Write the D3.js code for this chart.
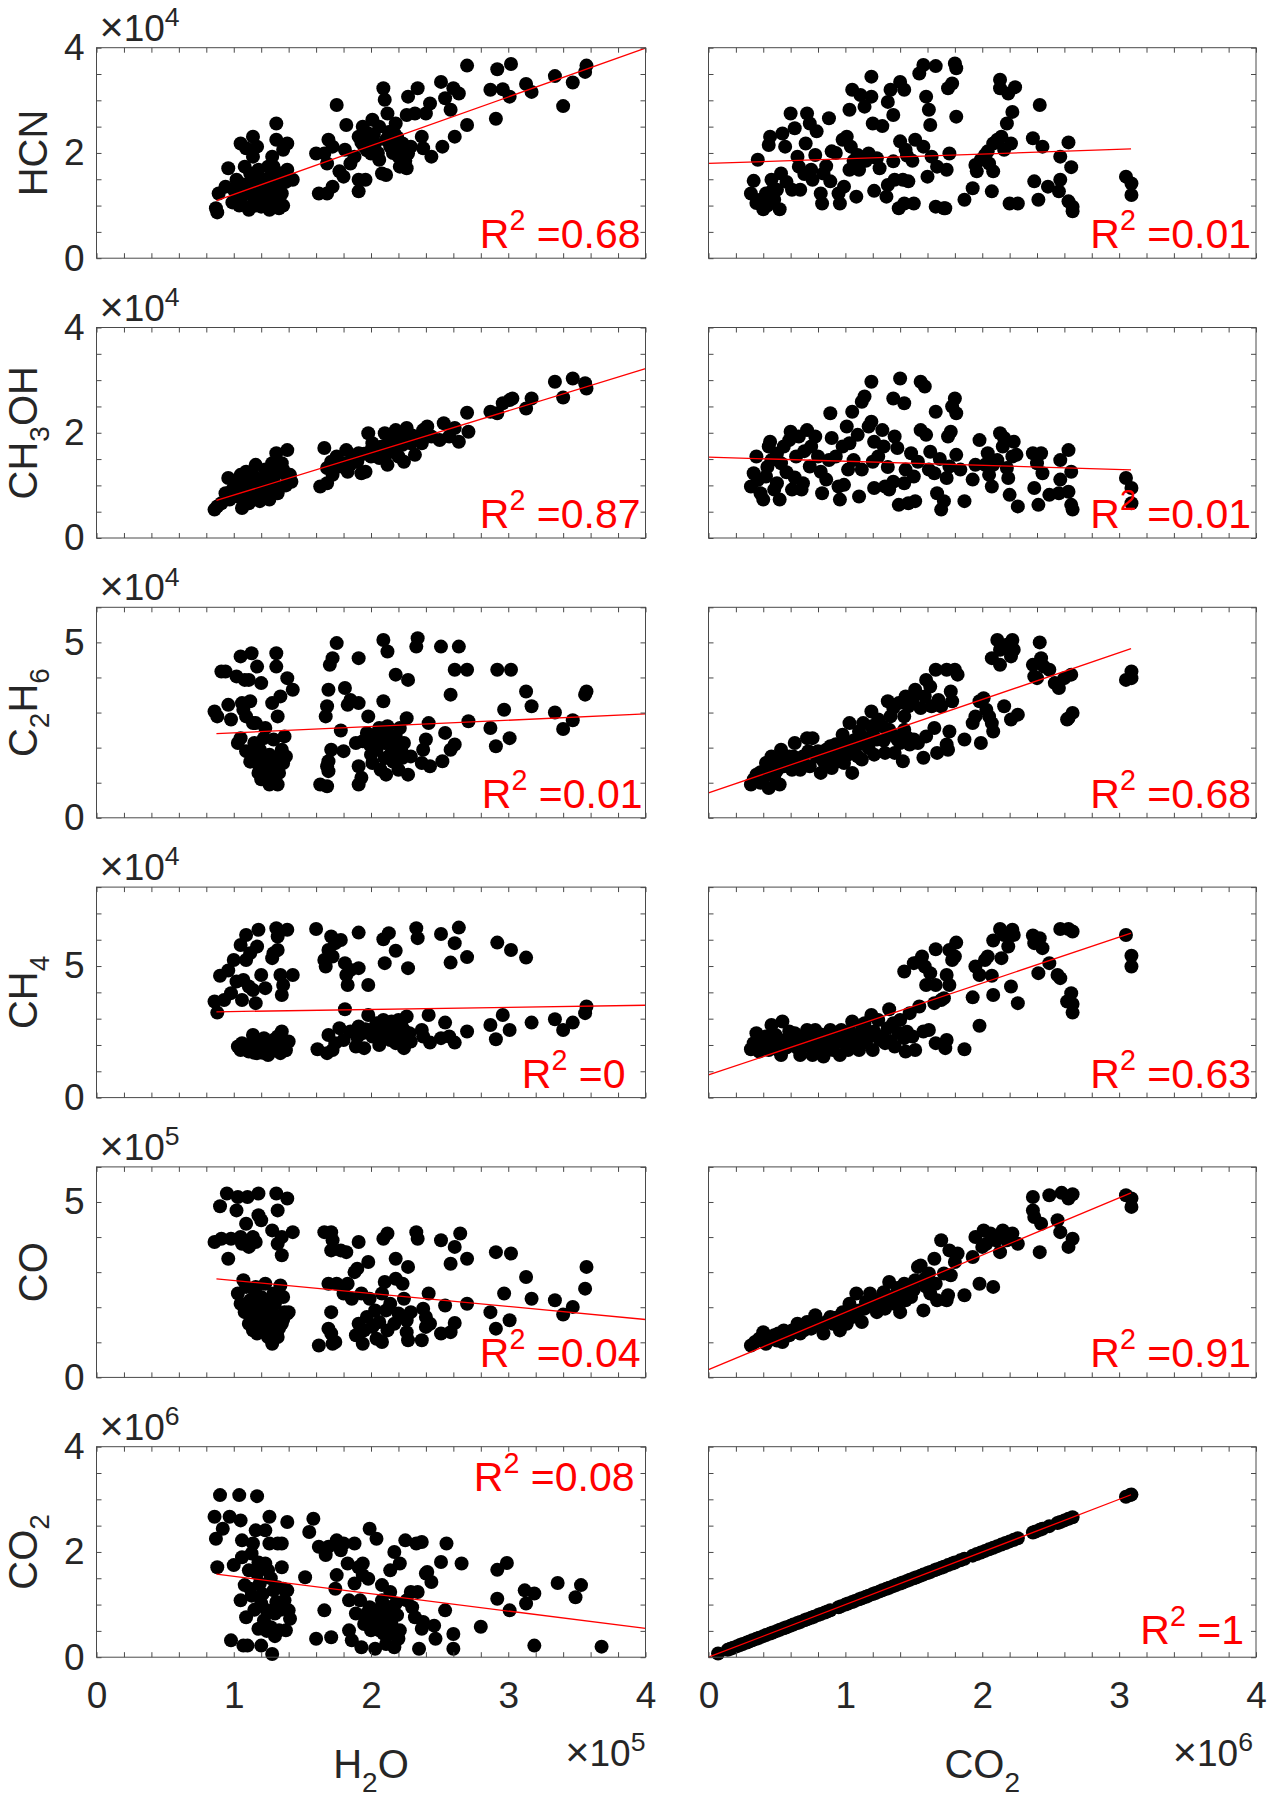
<!DOCTYPE html>
<html>
<head>
<meta charset="utf-8">
<script src="https://cdn.jsdelivr.net/npm/d3@7"></script>
<style>
  body { margin: 0; background: #fff; }
  text { font-family: "Liberation Sans", Arial, Helvetica, sans-serif; }
</style>
</head>
<body>
<svg id="chart" width="1267" height="1800"></svg>
<script>
// ---- data (x in units of 1e5 for H2O, 1e6 for CO2; y in units of 1e{yExp}) ----
const yNames = ["HCN", "CH_3OH", "C_2H_6", "CH_4", "CO", "CO_2"];
const xNames = ["H_2O", "CO_2"];
const xExp = [5, 6];
const yExp = [4, 4, 4, 4, 5, 6];
const yMax = [4, 4, 6, 8, 6, 4];
const yStep = [0.5, 0.5, 1, 1, 1, 0.5];
const yLabeled = [[0, 2, 4], [0, 2, 4], [0, 5], [0, 5], [0, 5], [0, 2, 4]];

const r2Left = ["0.68", "0.87", "0.01", "0", "0.04", "0.08"];
const r2Right = ["0.01", "0.01", "0.68", "0.63", "0.91", "1"];

// fitted lines: [x0, y0, x1, y1]
const fitLeft = [[0.874, 1.095, 4, 3.99], [0.874, 0.714, 4, 3.22], [0.874, 2.40, 4, 2.96],
                 [0.874, 3.26, 4, 3.51], [0.874, 2.81, 4, 1.65], [0.874, 1.58, 4, 0.546]];
const fitRight = [[0, 1.80, 3.087, 2.076], [0, 1.536, 3.087, 1.295], [0, 0.71, 3.087, 4.82],
                  [0, 0.86, 3.087, 6.25], [0, 0.22, 3.087, 5.26], [0, 0, 3.087, 3.087]];

const hcnH2O = [[0.87,0.95],[0.88,0.87],[0.89,1.23],[0.94,1.36],[0.96,1.71],[0.99,1.06],[1.02,1.49],[1.05,2.18],[1.06,1.17],[1.08,1.74],[1.09,2.09],[1.11,0.92],[1.12,1.61],[1.14,2.31],[1.14,1.27],[1.15,1.11],[1.17,2.12],[1.18,1.68],[1.19,1.36],[1.20,0.98],[1.22,1.17],[1.23,1.49],[1.25,1.74],[1.26,0.92],[1.28,1.93],[1.29,1.36],[1.31,2.25],[1.31,2.56],[1.32,1.11],[1.34,1.61],[1.35,1.23],[1.36,2.06],[1.39,2.18],[1.39,1.68],[1.43,1.49],[1.28,1.11],[1.02,1.11],[1.14,1.93],[1.29,1.74],[1.23,1.11],
  [1.00,1.30],[1.04,1.00],[1.07,1.40],[1.10,1.30],[1.13,1.45],[1.16,1.00],[1.18,1.50],[1.21,1.30],[1.24,1.25],[1.27,1.55],[1.30,1.20],[1.33,1.40],[1.36,1.00],[1.38,1.45],[1.12,0.98],[1.26,1.05],[1.33,0.95],
  [1.60,1.99],[1.62,1.23],[1.68,1.23],[1.66,1.99],[1.68,1.80],[1.69,2.25],[1.72,2.12],[1.72,1.36],[1.75,2.91],[1.77,1.65],[1.80,1.55],[1.81,2.06],[1.82,2.53],[1.85,1.80],[1.88,1.93],[1.91,2.31],[1.91,1.49],[1.91,1.27],[1.94,2.50],[1.95,2.12],[1.96,1.49],[1.98,2.37],[2.00,1.99],[2.01,2.63],[2.03,2.18],[2.06,2.50],[2.06,1.87],[2.08,1.61],[2.09,3.23],[2.10,3.01],[2.11,2.25],[2.11,1.58],[2.12,2.75],[2.14,2.12],[2.17,2.37],[2.18,2.56],[2.20,1.93],[2.21,1.74],[2.23,2.18],[2.26,2.72],[2.26,1.71],[2.27,3.07],[2.27,1.99],[2.29,2.12],[2.32,2.75],[2.34,3.23],[2.37,2.31],[2.38,2.09],[2.40,2.75],[2.43,2.94],[2.44,1.93],
  [1.93,2.20],[1.97,2.05],[2.02,2.35],[2.05,2.00],[2.13,2.40],[2.16,2.00],[2.19,2.30],[2.22,2.05],[2.25,1.85],[2.00,2.25],
  [2.51,3.35],[2.52,2.12],[2.54,3.04],[2.58,2.82],[2.60,3.23],[2.61,2.31],[2.64,3.13],[2.70,3.66],[2.70,2.53],[2.87,3.20],[2.91,2.65],[2.92,3.59],[2.96,3.21],[3.01,3.07],[3.02,3.69],[3.13,3.31],[3.17,3.16],[3.34,3.46],[3.40,2.89],[3.47,3.34],[3.56,3.54],[3.57,3.66]];

const hcnCO2 = [[0.31,1.23],[0.33,1.47],[0.36,1.87],[0.38,1.11],[0.40,0.93],[0.42,1.23],[0.44,2.15],[0.45,2.31],[0.46,1.49],[0.48,1.11],[0.50,1.30],[0.52,0.93],[0.53,1.61],[0.54,2.37],[0.56,2.12],[0.60,2.75],[0.61,1.30],[0.63,2.47],[0.65,1.93],[0.66,1.74],[0.67,1.30],[0.71,2.18],[0.72,2.75],[0.74,2.56],[0.75,1.68],[0.76,1.49],[0.78,1.96],[0.79,2.41],[0.82,1.23],[0.83,1.04],[0.84,1.61],[0.89,1.46],[0.88,2.66],[0.90,2.03],[0.95,1.23],[0.96,1.04],[0.98,2.25],[0.99,1.36],[1.01,2.31],[1.03,1.68],[1.03,2.82],[1.04,2.12],[1.05,3.20],[1.08,1.17],[1.09,1.96],[1.10,1.68],[1.11,3.10],[1.14,2.88],[1.17,1.99],[1.19,3.45],[1.19,3.07],[1.20,2.56],[1.21,1.28],[1.23,1.90],[1.25,1.71],[1.27,2.51],[1.30,1.17],[1.31,1.39],[1.31,2.97],[1.33,3.20],[1.35,2.72],[1.35,1.84],[1.36,1.49],[1.39,0.95],[1.40,2.22],[1.40,3.35],[1.42,1.49],[1.43,3.20],[1.43,1.04],[1.44,2.06],[1.46,1.46],[1.50,1.04],[1.51,2.25],[1.54,3.51],[1.57,3.67],[1.57,2.12],[1.59,3.07],[1.60,1.55],[1.61,2.82],[1.62,2.53],[1.63,1.93],[1.66,3.65],[1.66,0.98],[1.67,1.74],[1.72,0.95],[1.73,0.95],[1.74,1.68],[1.75,3.23],[1.76,1.99],[1.78,3.32],[1.80,3.70],[1.81,3.61],[1.81,2.69],[1.87,1.11],[1.93,1.33],[1.95,1.77],[1.96,1.65],[1.99,1.87],[2.02,1.96],[2.04,2.03],[2.07,1.27],[2.08,1.65],[2.08,2.18],[2.13,3.23],[2.13,3.39],[2.14,2.31],[2.16,2.06],[2.18,2.56],[2.19,3.13],[2.20,1.04],[2.21,2.18],[2.22,2.78],[2.24,3.25],[2.26,1.04],[2.37,2.28],[2.38,1.46],[2.41,1.11],[2.42,2.91],[2.44,2.12],[2.48,1.36],[2.56,1.27],[2.57,1.49],[2.57,1.93],[2.63,2.20],[2.63,1.08],[2.65,1.73],[2.66,0.98],[2.66,0.89],[3.05,1.55],[3.09,1.42],[3.09,1.20],
  [0.35,1.05],[0.43,1.00],[0.47,1.30],[0.57,1.45],[0.70,1.60],[0.86,1.75],[0.93,2.00],[1.06,1.85],[1.15,1.85],[1.45,1.95],[1.49,1.85],[2.05,1.80],[2.11,2.25]];

const ch3ohH2O = [[0.86,0.54],[0.88,0.60],[0.91,0.66],[0.94,0.85],[0.96,1.14],[0.97,0.73],[0.99,0.92],[1.02,1.04],[1.03,0.79],[1.05,1.20],[1.06,0.57],[1.08,0.92],[1.09,1.26],[1.11,0.66],[1.12,1.04],[1.14,0.73],[1.15,1.17],[1.16,1.39],[1.18,0.92],[1.20,1.11],[1.21,0.79],[1.23,1.30],[1.25,0.98],[1.26,0.73],[1.28,1.42],[1.29,1.11],[1.31,1.61],[1.32,0.85],[1.34,1.26],[1.35,1.42],[1.39,1.67],[1.39,1.17],[1.42,1.07],[1.14,0.92],[1.06,0.79],[1.26,1.04],
  [1.00,0.80],[1.04,0.95],[1.07,0.70],[1.10,1.00],[1.13,0.85],[1.17,1.05],[1.19,0.70],[1.22,1.00],[1.24,1.15],[1.27,0.85],[1.30,1.20],[1.33,0.95],[1.36,1.30],[1.38,1.00],[1.41,1.20],
  [1.63,0.98],[1.68,1.04],[1.66,1.71],[1.68,1.33],[1.71,1.45],[1.72,1.20],[1.75,1.55],[1.77,1.36],[1.80,1.42],[1.82,1.67],[1.83,1.26],[1.86,1.49],[1.89,1.55],[1.91,1.61],[1.93,1.23],[1.96,1.26],[1.98,1.99],[2.00,1.67],[2.01,1.80],[2.03,1.61],[2.06,1.52],[2.08,1.74],[2.10,1.99],[2.11,1.58],[2.12,1.39],[2.14,1.86],[2.17,1.67],[2.18,2.05],[2.20,1.55],[2.21,1.93],[2.23,1.77],[2.24,1.45],[2.26,2.09],[2.29,1.80],[2.32,1.58],[2.34,1.93],[2.37,1.80],[2.38,2.05],[2.41,2.12],[2.44,1.93],[2.50,1.86],[2.53,2.18],[2.57,1.93],[2.61,2.09],[2.64,1.83],[2.70,2.38],[2.71,2.02],
  [1.85,1.40],[1.90,1.45],[1.95,1.60],[2.00,1.55],[2.05,1.70],[2.10,1.75],[2.15,1.80],[2.20,1.75],[2.25,1.90],[2.30,1.95],[2.35,1.85],[2.40,1.95],
  [2.87,2.40],[2.92,2.37],[2.96,2.56],[3.01,2.62],[3.03,2.65],[3.13,2.46],[3.17,2.65],[3.34,2.97],[3.40,2.67],[3.47,3.03],[3.56,2.94],[3.57,2.84]];

const ch3ohCO2 = [[0.31,0.98],[0.33,1.23],[0.35,1.55],[0.38,0.85],[0.40,0.73],[0.42,1.17],[0.44,1.74],[0.45,1.83],[0.46,1.48],[0.48,0.92],[0.50,1.04],[0.52,0.73],[0.53,1.42],[0.55,1.74],[0.59,1.86],[0.60,2.02],[0.61,0.92],[0.64,1.55],[0.66,1.93],[0.68,0.92],[0.69,1.04],[0.72,2.05],[0.74,1.36],[0.75,1.74],[0.78,1.93],[0.82,1.26],[0.83,0.85],[0.86,1.11],[0.88,1.48],[0.89,2.37],[0.90,1.90],[0.95,0.98],[0.96,0.73],[0.98,1.74],[0.99,1.01],[1.01,2.12],[1.02,1.30],[1.03,1.80],[1.05,2.40],[1.06,1.48],[1.09,1.96],[1.10,0.79],[1.12,2.59],[1.14,2.69],[1.17,2.12],[1.19,2.21],[1.19,2.97],[1.20,1.45],[1.21,0.95],[1.21,1.83],[1.27,2.05],[1.28,1.74],[1.29,0.98],[1.32,0.92],[1.35,1.07],[1.35,2.65],[1.36,1.93],[1.38,1.71],[1.39,0.63],[1.40,3.03],[1.43,2.56],[1.43,1.04],[1.44,1.30],[1.46,0.66],[1.48,1.61],[1.50,1.17],[1.51,0.70],[1.55,2.05],[1.55,2.97],[1.58,2.88],[1.59,1.96],[1.61,1.30],[1.62,1.64],[1.65,1.23],[1.66,2.40],[1.67,0.85],[1.70,0.54],[1.72,0.70],[1.74,1.14],[1.75,1.93],[1.76,1.36],[1.77,2.02],[1.78,2.50],[1.80,2.65],[1.81,2.37],[1.81,1.58],[1.87,0.70],[1.93,1.11],[1.95,1.39],[1.98,1.86],[2.02,1.39],[2.04,1.61],[2.07,0.98],[2.08,1.39],[2.11,1.48],[2.13,1.99],[2.15,1.74],[2.16,1.90],[2.18,1.33],[2.19,1.14],[2.20,0.82],[2.22,1.55],[2.23,1.83],[2.25,1.58],[2.26,0.60],[2.37,1.61],[2.38,0.95],[2.40,1.42],[2.41,0.63],[2.43,1.61],[2.44,1.23],[2.49,0.82],[2.56,0.85],[2.57,1.11],[2.57,1.48],[2.63,0.88],[2.63,1.67],[2.65,1.26],[2.65,0.63],[2.66,0.54],[3.05,1.14],[3.09,0.95],[3.09,0.66],
  [0.36,1.10],[0.43,1.35],[0.50,1.60],[0.57,1.25],[0.63,1.15],[0.70,1.65],[0.80,1.55],[0.93,1.55],[1.12,1.30],[1.24,1.55],[1.31,1.35],[1.53,1.45],[1.69,1.50],[1.84,1.30],[2.05,1.20]];

const c2h6H2O = [[0.86,3.03],[0.88,2.89],[0.91,4.17],[0.94,4.17],[0.96,3.22],[0.98,2.80],[1.02,4.03],[1.03,2.13],[1.05,4.60],[1.05,2.27],[1.06,3.27],[1.07,3.08],[1.08,3.93],[1.09,1.90],[1.09,2.89],[1.11,3.93],[1.12,3.32],[1.13,1.75],[1.13,4.69],[1.14,2.70],[1.15,2.13],[1.16,2.70],[1.17,1.56],[1.17,4.31],[1.18,1.28],[1.19,1.94],[1.20,3.84],[1.21,1.56],[1.22,2.27],[1.23,2.56],[1.25,1.37],[1.26,0.95],[1.26,1.80],[1.28,3.27],[1.29,1.28],[1.29,2.23],[1.31,4.69],[1.31,4.31],[1.32,0.95],[1.32,2.89],[1.33,1.28],[1.34,3.46],[1.35,1.94],[1.36,1.56],[1.37,2.32],[1.38,1.75],[1.39,3.98],[1.43,3.65],
  [1.12,1.60],[1.15,1.90],[1.18,1.70],[1.21,1.40],[1.24,1.70],[1.27,1.50],[1.30,1.60],[1.33,1.75],[1.20,1.10],[1.28,1.05],
  [1.63,0.95],[1.68,0.90],[1.68,1.47],[1.69,1.61],[1.69,1.33],[1.67,2.89],[1.68,3.18],[1.69,3.65],[1.71,1.94],[1.70,4.36],[1.72,4.55],[1.75,4.98],[1.78,2.49],[1.80,1.90],[1.81,3.70],[1.83,3.22],[1.85,3.36],[1.89,2.13],[1.91,1.47],[1.91,3.27],[1.91,4.55],[1.91,0.95],[1.93,1.14],[1.94,2.18],[1.97,2.42],[1.98,2.89],[1.99,2.09],[2.01,1.56],[2.03,2.37],[2.04,1.94],[2.06,2.56],[2.07,1.37],[2.09,3.32],[2.09,5.07],[2.10,2.13],[2.11,1.23],[2.12,2.61],[2.12,4.74],[2.14,1.80],[2.15,2.04],[2.18,4.08],[2.18,2.32],[2.20,1.37],[2.21,2.56],[2.23,1.71],[2.24,2.13],[2.26,2.84],[2.27,3.93],[2.27,1.23],[2.29,1.75],[2.33,4.88],[2.34,5.12],[2.37,1.56],[2.38,1.94],[2.40,2.23],[2.42,2.70],[2.43,1.47],
  [2.00,1.80],[2.05,2.20],[2.10,1.70],[2.13,2.35],[2.16,1.60],[2.22,1.95],[2.02,2.15],
  [2.51,4.88],[2.52,1.61],[2.54,2.42],[2.58,3.51],[2.58,1.94],[2.61,4.22],[2.61,2.09],[2.64,4.88],[2.70,4.22],[2.71,2.75],[2.87,2.56],[2.91,2.04],[2.92,4.22],[2.97,3.08],[3.01,2.27],[3.02,4.22],[3.13,3.60],[3.17,3.18],[3.34,3.00],[3.40,2.53],[3.47,2.78],[3.56,3.51],[3.57,3.60]];

const c2h6CO2 = [[0.31,0.95],[0.33,1.09],[0.35,1.23],[0.38,1.00],[0.40,1.14],[0.42,1.56],[0.44,0.85],[0.45,1.28],[0.46,1.75],[0.48,1.18],[0.50,1.61],[0.52,0.95],[0.53,1.94],[0.55,1.47],[0.59,1.75],[0.61,1.37],[0.63,2.13],[0.65,1.66],[0.67,1.37],[0.69,1.75],[0.72,2.27],[0.74,1.47],[0.76,2.27],[0.79,1.75],[0.82,1.28],[0.84,1.61],[0.86,1.94],[0.89,2.04],[0.90,1.42],[0.91,1.75],[0.94,1.61],[0.96,1.90],[0.98,2.37],[0.99,1.56],[1.01,2.13],[1.02,1.80],[1.03,2.70],[1.05,1.28],[1.08,2.04],[1.09,1.75],[1.10,2.46],[1.12,1.66],[1.13,2.70],[1.16,2.23],[1.17,1.99],[1.19,2.61],[1.19,3.03],[1.21,1.80],[1.23,2.23],[1.24,2.80],[1.27,2.61],[1.29,1.85],[1.31,3.32],[1.32,2.51],[1.33,2.89],[1.35,3.13],[1.36,1.85],[1.38,2.23],[1.39,3.27],[1.40,2.13],[1.42,1.61],[1.43,2.89],[1.43,2.51],[1.44,3.46],[1.46,3.18],[1.47,2.09],[1.49,3.36],[1.50,2.23],[1.51,3.65],[1.53,2.13],[1.55,3.13],[1.57,1.71],[1.58,3.46],[1.59,3.93],[1.59,2.32],[1.62,3.74],[1.63,3.18],[1.65,2.56],[1.66,4.22],[1.67,1.85],[1.68,3.36],[1.70,3.18],[1.74,2.09],[1.74,4.22],[1.75,1.94],[1.76,2.46],[1.77,3.60],[1.78,3.32],[1.80,4.22],[1.82,4.08],[1.87,2.23],[1.93,2.70],[1.95,2.89],[1.98,3.32],[1.99,2.13],[2.01,3.41],[2.03,3.08],[2.05,2.89],[2.07,2.70],[2.08,2.46],[2.07,4.55],[2.11,5.07],[2.13,4.36],[2.13,4.79],[2.14,4.88],[2.16,3.18],[2.18,4.93],[2.21,4.60],[2.21,2.80],[2.22,5.07],[2.23,4.79],[2.26,2.94],[2.37,4.36],[2.38,4.03],[2.40,3.98],[2.42,5.00],[2.43,4.55],[2.45,4.31],[2.49,4.22],[2.53,3.84],[2.56,3.70],[2.60,3.98],[2.62,2.80],[2.65,4.08],[2.66,2.99],[2.63,2.84],[3.05,3.93],[3.09,4.17],[3.09,3.98],
  [0.38,1.30],[0.44,1.50],[0.50,1.35],[0.56,1.60],[0.62,1.75],[0.68,1.60],[0.73,1.90],[0.80,1.90],[0.87,1.75],[0.93,2.10],[1.00,1.95],[1.06,2.20],[1.12,2.30],[1.20,2.40],[1.28,2.20],[1.35,2.35],[1.45,2.30]];

const ch4H2O = [[0.86,3.65],[0.88,3.23],[0.90,4.63],[0.93,3.71],[0.96,4.83],[0.98,3.97],[1.00,5.23],[1.02,4.41],[1.05,5.80],[1.06,3.71],[1.07,4.47],[1.09,6.18],[1.09,5.23],[1.11,4.22],[1.12,5.49],[1.14,4.09],[1.16,3.59],[1.17,5.74],[1.18,6.38],[1.20,4.66],[1.23,4.16],[1.28,5.30],[1.29,5.49],[1.31,6.44],[1.32,6.12],[1.32,5.61],[1.34,4.66],[1.35,3.90],[1.36,4.28],[1.39,6.38],[1.43,4.66],
  [1.03,1.94],[1.05,1.81],[1.06,2.07],[1.09,1.88],[1.11,1.75],[1.14,2.38],[1.16,1.88],[1.17,1.69],[1.19,2.13],[1.20,1.81],[1.22,2.26],[1.23,1.94],[1.25,1.62],[1.26,2.07],[1.28,1.81],[1.29,2.19],[1.31,1.88],[1.32,2.32],[1.34,1.69],[1.35,2.51],[1.37,2.07],[1.40,2.13],
  [1.07,1.85],[1.12,2.00],[1.15,1.70],[1.18,1.95],[1.21,1.70],[1.24,2.10],[1.27,1.75],[1.30,2.00],[1.33,1.85],[1.36,1.95],[1.38,1.80],
  [1.60,6.41],[1.66,5.23],[1.67,4.98],[1.69,5.61],[1.71,6.12],[1.72,5.36],[1.74,5.87],[1.78,5.99],[1.81,5.11],[1.82,4.66],[1.83,4.28],[1.85,4.85],[1.91,4.92],[1.91,6.27],[1.98,4.28],[2.10,5.11],[2.09,6.02],[2.13,6.25],[2.18,5.58],[2.27,4.92],[2.33,6.44],[2.34,6.06],[2.51,6.22],[2.58,5.13],[2.61,5.87],[2.64,6.46],[2.70,5.34],[2.92,5.89],[3.02,5.61],[3.13,5.32],
  [1.61,1.84],[1.68,1.69],[1.69,2.38],[1.72,1.81],[1.74,2.07],[1.77,2.64],[1.80,2.19],[1.81,3.36],[1.85,2.51],[1.89,1.94],[1.91,2.70],[1.94,2.45],[1.95,1.88],[1.98,3.14],[2.00,2.57],[2.01,2.32],[2.04,2.83],[2.06,2.00],[2.08,2.51],[2.09,2.95],[2.11,2.38],[2.12,2.70],[2.14,2.19],[2.15,2.89],[2.17,2.51],[2.18,2.07],[2.20,2.95],[2.21,2.32],[2.23,2.64],[2.24,1.88],[2.26,3.08],[2.27,2.32],[2.29,2.13],[2.37,2.57],[2.38,2.32],[2.42,3.14],[2.43,2.09],[2.51,2.26],[2.54,2.85],[2.57,2.32],[2.61,2.09],[2.70,2.51],[2.87,2.76],[2.91,2.22],[2.96,3.14],[3.01,2.57],[3.17,2.85],[3.34,2.98],[3.40,2.57],[3.47,2.85],[3.56,3.21],[3.57,3.46],
  [2.02,2.60],[2.05,2.30],[2.07,2.75],[2.13,2.45],[2.16,2.70],[2.19,2.40],[2.22,2.75],[2.25,2.50],[2.28,2.45],[1.90,2.30],[1.96,2.60]];

const ch4CO2 = [[0.31,1.84],[0.33,2.07],[0.35,2.45],[0.37,1.75],[0.39,2.07],[0.42,2.32],[0.44,1.81],[0.46,2.76],[0.47,2.07],[0.49,2.38],[0.51,1.81],[0.53,1.62],[0.54,2.89],[0.56,2.19],[0.59,2.51],[0.61,2.07],[0.63,2.45],[0.65,1.88],[0.67,1.62],[0.69,2.32],[0.72,2.57],[0.74,1.94],[0.76,1.62],[0.78,2.57],[0.80,2.07],[0.83,1.81],[0.84,1.56],[0.86,2.32],[0.89,2.57],[0.91,1.81],[0.93,2.19],[0.96,1.62],[0.97,2.57],[0.99,2.07],[1.02,1.81],[1.03,2.51],[1.05,2.89],[1.08,2.26],[1.10,1.81],[1.12,2.57],[1.14,2.83],[1.17,2.32],[1.19,3.14],[1.20,1.81],[1.21,2.51],[1.24,2.95],[1.27,2.32],[1.29,2.07],[1.31,2.64],[1.32,3.36],[1.35,2.83],[1.36,1.94],[1.39,2.45],[1.40,2.95],[1.43,2.26],[1.44,1.75],[1.47,3.21],[1.49,2.32],[1.51,1.81],[1.54,3.46],[1.57,2.51],[1.61,2.57],[1.66,2.07],[1.73,1.88],[1.74,2.19],[1.87,1.84],[1.98,2.73],
  [0.40,2.20],[0.50,2.20],[0.57,1.90],[0.62,2.30],[0.70,2.00],[0.77,2.20],[0.82,2.40],[0.88,2.10],[0.95,2.30],[1.00,2.20],[1.07,2.00],[1.15,2.10],[1.25,2.20],[1.33,2.15],[1.45,2.50],
  [1.43,4.79],[1.50,5.11],[1.54,5.17],[1.56,5.36],[1.58,4.98],[1.59,4.28],[1.62,4.73],[1.65,3.59],[1.66,4.28],[1.66,5.64],[1.70,3.71],[1.72,3.78],[1.74,4.66],[1.76,5.61],[1.76,4.28],[1.78,5.23],[1.80,5.36],[1.81,5.89],[1.93,3.81],[1.95,4.98],[1.98,4.66],[2.02,5.23],[2.04,5.36],[2.07,4.63],[2.08,3.90],[2.08,5.97],[2.13,6.41],[2.14,5.30],[2.16,6.18],[2.19,5.74],[2.21,4.22],[2.22,6.38],[2.23,6.18],[2.26,3.59],[2.37,6.16],[2.38,5.87],[2.41,4.73],[2.42,6.06],[2.44,5.68],[2.49,5.11],[2.55,4.66],[2.57,4.54],[2.57,6.41],[2.62,3.65],[2.63,6.41],[2.65,3.97],[2.66,6.31],[2.66,3.56],[2.66,3.23],[3.05,6.18],[3.09,5.39],[3.09,4.98]];

const coH2O = [[0.86,3.86],[0.91,3.95],[0.90,4.88],[0.95,5.24],[0.96,3.38],[0.98,3.95],[1.02,4.76],[1.03,5.14],[1.05,4.00],[1.06,3.81],[1.09,4.38],[1.10,5.14],[1.11,3.72],[1.14,4.00],[1.16,3.86],[1.18,5.24],[1.18,4.62],[1.20,4.48],[1.28,4.19],[1.31,5.24],[1.32,4.76],[1.32,3.81],[1.35,3.48],[1.35,4.00],[1.39,5.10],[1.43,4.14],
  [1.03,2.39],[1.05,2.10],[1.07,2.77],[1.08,1.86],[1.09,2.58],[1.11,1.53],[1.12,2.20],[1.13,1.72],[1.14,1.34],[1.16,2.58],[1.17,2.01],[1.17,1.25],[1.19,1.53],[1.20,2.29],[1.22,1.72],[1.23,2.67],[1.24,1.34],[1.26,2.10],[1.26,1.48],[1.28,0.96],[1.29,2.39],[1.30,1.77],[1.31,1.25],[1.32,1.15],[1.34,2.62],[1.35,1.53],[1.36,2.29],[1.37,1.86],[1.39,1.82],[1.40,1.86],
  [1.10,2.00],[1.13,1.55],[1.15,2.30],[1.18,1.80],[1.21,1.40],[1.24,2.00],[1.27,1.70],[1.30,2.10],[1.33,1.40],[1.25,1.15],[1.36,1.65],
  [1.62,0.91],[1.66,4.14],[1.71,4.14],[1.72,3.91],[1.71,3.62],[1.69,2.67],[1.71,1.86],[1.69,1.39],[1.71,1.25],[1.72,0.96],[1.74,1.01],[1.75,2.67],[1.78,3.62],[1.80,2.39],[1.82,3.57],[1.83,2.67],[1.86,2.24],[1.88,3.00],[1.89,1.20],[1.90,3.10],[1.91,1.53],[1.91,3.86],[1.93,2.39],[1.94,0.96],[1.95,1.34],[1.97,1.72],[1.98,3.29],[1.99,2.24],[2.01,1.44],[2.03,1.91],[2.04,1.10],[2.06,1.58],[2.08,2.39],[2.08,1.01],[2.09,3.95],[2.10,2.72],[2.11,1.91],[2.12,4.10],[2.12,1.34],[2.14,2.10],[2.17,1.53],[2.18,3.38],[2.18,2.81],[2.20,1.82],[2.23,2.67],[2.24,2.24],[2.26,1.63],[2.26,1.29],[2.27,1.06],[2.27,3.15],[2.29,1.86],[2.33,4.14],[2.34,3.95],[2.37,1.06],[2.38,1.96],[2.40,1.72],[2.40,1.44],[2.42,2.39],[2.43,1.53],[2.51,3.91],[2.51,1.25],[2.54,2.05],[2.58,3.24],[2.58,1.29],[2.61,3.72],[2.61,1.55],[2.65,4.10],[2.70,3.38],[2.70,2.10],[2.87,1.86],[2.91,3.57],[2.91,1.39],[2.97,2.39],[3.01,1.63],[3.02,3.53],[3.13,2.86],[3.17,2.24],[3.34,2.20],[3.40,1.79],[3.47,2.01],[3.56,2.53],[3.57,3.15]];

const coCO2 = [[0.31,0.91],[0.34,1.01],[0.37,1.10],[0.40,1.29],[0.42,0.96],[0.45,1.15],[0.48,1.20],[0.51,1.25],[0.54,1.01],[0.55,1.34],[0.59,1.20],[0.61,1.34],[0.65,1.53],[0.67,1.25],[0.69,1.44],[0.72,1.58],[0.75,1.39],[0.78,1.77],[0.80,1.48],[0.84,1.25],[0.86,1.58],[0.89,1.72],[0.91,1.53],[0.94,1.63],[0.96,1.34],[0.98,1.86],[1.01,1.53],[1.03,2.10],[1.05,1.72],[1.08,2.39],[1.10,1.91],[1.12,1.58],[1.14,1.96],[1.18,2.39],[1.20,2.05],[1.23,1.86],[1.25,2.20],[1.28,2.43],[1.29,1.96],[1.32,2.72],[1.34,2.29],[1.36,2.10],[1.39,2.39],[1.40,1.86],[1.43,2.67],[1.44,2.20],[1.47,2.48],[1.48,2.29],[1.51,2.77],[1.53,3.15],[1.55,3.19],[1.57,1.91],[1.58,2.81],[1.59,2.58],[1.61,2.96],[1.62,2.39],[1.65,3.38],[1.66,2.67],[1.67,2.20],[1.70,3.91],[1.72,2.96],[1.74,2.20],[1.75,2.34],[1.76,3.62],[1.77,2.91],[1.80,3.29],[1.82,3.53],[1.87,2.34],[1.93,3.43],[1.95,4.00],[1.98,2.67],[2.00,3.72],[2.01,4.19],[2.03,3.81],[2.06,4.10],[2.08,2.58],[2.10,3.91],[2.13,3.57],[2.15,4.19],[2.18,3.91],[2.22,4.10],[2.26,3.81],[2.37,5.14],[2.37,4.76],[2.38,4.57],[2.42,3.57],[2.43,4.38],[2.49,5.19],[2.55,4.48],[2.57,4.14],[2.58,5.26],[2.63,5.10],[2.63,3.72],[2.66,3.95],[2.66,5.22],[3.05,5.19],[3.09,5.10],[3.09,4.86],
  [0.50,1.05],[0.60,1.25],[0.70,1.35],[0.82,1.45],[0.93,1.70],[1.05,1.90],[1.15,2.15],[1.27,2.20],[1.38,2.55],[1.50,2.50]];

const co2H2O = [[0.86,2.67],[0.87,2.25],[0.88,1.71],[0.90,3.08],[0.92,2.44],[0.97,2.67],[0.98,0.32],[1.00,1.75],[1.04,3.08],[1.05,1.08],[1.05,2.60],[1.06,1.90],[1.06,2.22],[1.07,0.22],[1.08,1.37],[1.09,0.76],[1.10,0.22],[1.11,1.65],[1.13,1.17],[1.13,1.97],[1.14,2.16],[1.16,2.41],[1.17,3.06],[1.17,1.59],[1.18,0.54],[1.19,1.40],[1.20,0.22],[1.20,1.02],[1.22,0.70],[1.23,1.78],[1.23,2.41],[1.24,0.89],[1.25,1.65],[1.26,2.67],[1.26,2.16],[1.27,0.57],[1.28,0.06],[1.29,1.27],[1.30,0.83],[1.31,1.05],[1.32,1.33],[1.32,2.16],[1.33,0.51],[1.35,1.71],[1.35,2.16],[1.37,1.08],[1.38,0.51],[1.39,2.57],[1.39,1.27],[1.40,0.89],[1.41,0.73],
  [1.12,1.30],[1.15,0.90],[1.18,1.80],[1.21,1.20],[1.24,0.50],[1.27,1.50],[1.30,0.40],[1.34,0.90],[1.36,1.30],
  [1.52,1.52],[1.55,2.38],[1.58,2.63],[1.60,0.35],[1.62,2.10],[1.66,0.89],[1.67,1.94],[1.69,2.10],[1.71,0.38],[1.74,1.30],[1.75,1.56],[1.75,2.22],[1.78,2.03],[1.80,2.16],[1.83,1.78],[1.84,1.08],[1.84,0.51],[1.86,0.32],[1.88,2.16],[1.88,1.40],[1.89,0.83],[1.91,1.71],[1.92,1.08],[1.93,0.19],[1.94,1.78],[1.94,1.56],[1.95,0.63],[1.97,0.83],[1.98,1.49],[1.99,2.44],[2.00,0.51],[2.01,0.83],[2.03,0.16],[2.04,2.25],[2.04,0.63],[2.06,0.51],[2.08,1.37],[2.08,1.08],[2.10,0.76],[2.11,0.25],[2.11,0.57],[2.13,0.95],[2.14,1.65],[2.14,1.24],[2.15,0.63],[2.17,2.00],[2.17,0.19],[2.18,1.02],[2.20,0.35],[2.21,1.78],[2.21,0.51],[2.25,2.22],[2.26,1.08],[2.29,1.24],[2.30,0.95],[2.32,0.76],[2.33,2.16],[2.34,1.24],[2.35,0.16],[2.37,2.19],[2.37,0.54],[2.38,0.67],[2.40,1.59],[2.41,1.62],[2.44,1.43],[2.46,0.60],[2.47,0.35],[2.51,1.81],[2.54,0.89],[2.55,2.16],[2.60,0.44],[2.60,0.16],[2.66,1.78],[2.80,0.58],[2.92,1.11],[2.92,1.66],[2.99,1.79],[3.01,0.89],[3.12,1.27],[3.13,1.02],[3.19,1.21],[3.19,0.22],[3.36,1.41],[3.49,1.14],[3.53,1.37],[3.68,0.20],
  [1.97,0.70],[2.02,0.70],[2.05,0.90],[2.09,0.45],[2.13,0.75],[2.16,0.45],[2.19,0.80],[1.99,0.95]];

// CO2 against itself: each sample sits at (value, value)
const co2Self = [0.07,0.14,0.16,0.18,0.21,0.23,0.25,0.28,0.30,0.32,0.35,0.37,0.40,0.42,0.45,0.47,0.50,0.52,0.55,0.57,0.60,0.62,0.65,0.67,0.70,0.72,0.75,0.77,0.80,0.82,0.85,0.87,0.89,0.95,0.97,1.00,1.02,1.05,1.07,1.10,1.12,1.15,1.17,1.20,1.22,1.25,1.27,1.30,1.32,1.35,1.37,1.40,1.42,1.45,1.47,1.50,1.52,1.55,1.57,1.60,1.62,1.65,1.67,1.70,1.72,1.75,1.78,1.80,1.84,1.87,1.93,1.96,1.99,2.02,2.05,2.08,2.11,2.14,2.17,2.20,2.23,2.26,2.37,2.39,2.42,2.44,2.49,2.55,2.57,2.60,2.63,2.66,3.05,3.08,3.09];

const leftPoints = [hcnH2O, ch3ohH2O, c2h6H2O, ch4H2O, coH2O, co2H2O];
const rightPoints = [hcnCO2, ch3ohCO2, c2h6CO2, ch4CO2, coCO2, co2Self.map(v => [v, v])];

// ---- layout ----
const cols = [[96.5, 645.5], [708.5, 1256]];
const panelTop0 = 47.7, rowGap = 279.8, panelH = 210.5;
const tickFont = 37, labelFont = 40, expFont = 37, r2Font = 41;
const ink = "#262626", boxColor = "#4a4a4a";
const dotR = 7;
const r2Layout = [
  [{pad: 5}, {pad: 5}],
  [{pad: 5}, {pad: 5}],
  [{pad: 3}, {pad: 5}],
  [{pad: 20}, {pad: 5}],
  [{pad: 5}, {pad: 5}],
  [{pad: 11, top: 44}, {pad: 12, bottom: 13}]
];

const svg = d3.select("#chart");

// write text with "_d" subscripts
function richText(sel, str, size, subShift) {
  const parts = str.split(/_(\d)/);
  let shifted = false;
  parts.forEach((p, i) => {
    if (!p) return;
    const sub = i % 2 === 1;
    const t = sel.append("tspan").text(p);
    if (sub) {
      t.attr("font-size", size * 0.7).attr("dy", subShift);
      shifted = true;
    } else if (shifted) {
      t.attr("dy", -subShift);
      shifted = false;
    }
  });
}

function expText(sel, exp, size) {
  sel.append("tspan").attr("font-size", size * 1.12).text("\u00d7");
  sel.append("tspan").text("10");
  sel.append("tspan").attr("font-size", size * 0.72).attr("dy", -size * 0.4).text(exp);
}

const isInt = d => Math.abs(d - Math.round(d)) < 1e-6;
const xTicks = d3.range(0, 4.0001, 0.2);

for (let r = 0; r < 6; r++) {
  const top = panelTop0 + r * rowGap;
  const bottom = top + panelH;
  const yTicks = d3.range(0, yMax[r] + 1e-6, yStep[r]);
  const y = d3.scaleLinear().domain([0, yMax[r]]).range([bottom, top]);

  for (let c = 0; c < 2; c++) {
    const [x0, x1] = cols[c];
    const x = d3.scaleLinear().domain([0, 4]).range([x0, x1]);
    const g = svg.append("g");
    const lastRow = r === 5;

    // points
    const pts = c === 0 ? leftPoints[r] : rightPoints[r];
    g.append("g").selectAll("circle")
      .data(pts)
      .join("circle")
        .attr("cx", d => x(d[0]))
        .attr("cy", d => y(d[1]))
        .attr("r", dotR)
        .attr("fill", "#000");

    // fitted line
    const f = c === 0 ? fitLeft[r] : fitRight[r];
    g.append("line")
      .attr("x1", x(f[0])).attr("y1", y(f[1]))
      .attr("x2", x(f[2])).attr("y2", y(f[3]))
      .attr("stroke", "#ff0000")
      .attr("stroke-width", 1.3);

    // axes, ticks pointing inward on all four sides
    const styleAxis = sel => {
      sel.select(".domain").remove();
      sel.attr("font-size", tickFont)
        .attr("font-family", '"Liberation Sans", Arial, sans-serif')
        .attr("color", ink);
      sel.selectAll(".tick line").attr("stroke", boxColor);
    };

    g.append("g")
      .attr("transform", `translate(0,${bottom})`)
      .call(d3.axisBottom(x).tickValues(xTicks).tickSizeInner(-5).tickSizeOuter(0)
        .tickPadding(25).tickFormat(d => lastRow && isInt(d) ? Math.round(d) : ""))
      .call(styleAxis);
    g.append("g")
      .attr("transform", `translate(0,${top})`)
      .call(d3.axisTop(x).tickValues(xTicks).tickSizeInner(-5).tickSizeOuter(0).tickFormat(""))
      .call(styleAxis);
    g.append("g")
      .attr("transform", `translate(${x0},0)`)
      .call(d3.axisLeft(y).tickValues(yTicks).tickSizeInner(-5).tickSizeOuter(0)
        .tickPadding(12)
        .tickFormat(d => c === 0 && yLabeled[r].some(v => Math.abs(v - d) < 1e-6) ? Math.round(d) : ""))
      .call(styleAxis);
    g.append("g")
      .attr("transform", `translate(${x1},0)`)
      .call(d3.axisRight(y).tickValues(yTicks).tickSizeInner(-5).tickSizeOuter(0).tickFormat(""))
      .call(styleAxis);

    // box
    g.append("rect")
      .attr("x", x0).attr("y", top)
      .attr("width", x1 - x0).attr("height", bottom - top)
      .attr("fill", "none")
      .attr("stroke", boxColor)
      .attr("stroke-width", 1);

    // R^2 label
    const lay = r2Layout[r][c];
    const r2 = g.append("text")
      .attr("x", x1 - lay.pad)
      .attr("y", lay.top !== undefined ? top + lay.top : bottom - (lay.bottom || 10))
      .attr("text-anchor", "end")
      .attr("font-size", r2Font)
      .attr("fill", "#ff0000");
    r2.append("tspan").text("R");
    r2.append("tspan").attr("font-size", r2Font * 0.7).attr("dy", -r2Font * 0.44).text("2");
    r2.append("tspan").attr("dy", r2Font * 0.44).text(" =" + (c === 0 ? r2Left[r] : r2Right[r]));

    if (c === 0) {
      // y exponent
      const ex = g.append("text")
        .attr("x", x0 + 3)
        .attr("y", top - 7)
        .attr("font-size", expFont)
        .attr("fill", ink);
      expText(ex, yExp[r], expFont);

      // y label
      const hasSub = yNames[r].includes("_");
      const yl = g.append("text")
        .attr("transform", `translate(${hasSub ? 37 : 47},${(top + bottom) / 2}) rotate(-90)`)
        .attr("text-anchor", "middle")
        .attr("font-size", labelFont)
        .attr("fill", ink);
      richText(yl, yNames[r], labelFont, 12);
    }

    if (lastRow) {
      const xl = g.append("text")
        .attr("x", (x0 + x1) / 2)
        .attr("y", 1778)
        .attr("text-anchor", "middle")
        .attr("font-size", labelFont)
        .attr("fill", ink);
      richText(xl, xNames[c], labelFont, 14);

      const xe = g.append("text")
        .attr("x", x1 - (c === 0 ? 0 : 3))
        .attr("y", 1766)
        .attr("text-anchor", "end")
        .attr("font-size", expFont)
        .attr("fill", ink);
      expText(xe, xExp[c], expFont);
    }
  }
}
</script>
</body>
</html>
